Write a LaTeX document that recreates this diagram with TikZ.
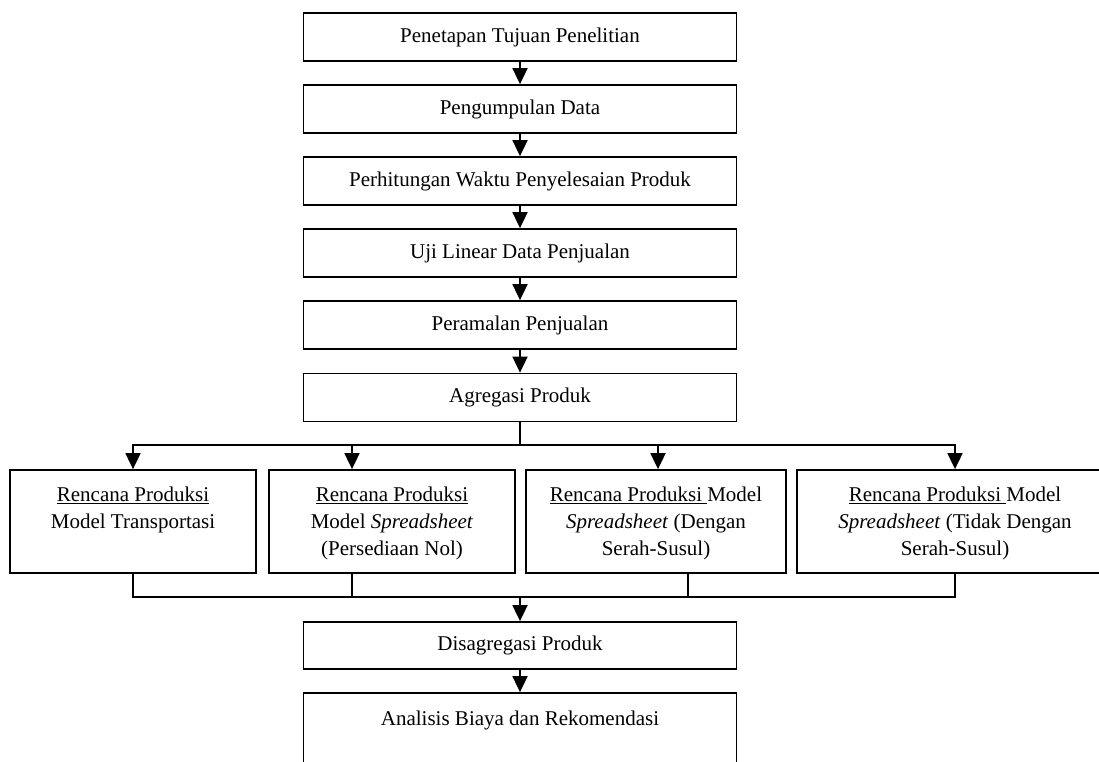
\documentclass[tikz,border=0pt]{standalone}
\usepackage{fontspec}
\setmainfont{Liberation Serif}
\usetikzlibrary{arrows.meta}
\begin{document}
\begin{tikzpicture}[x=1pt,y=-1pt,
  txt/.style={font=\fontsize{21}{27}\selectfont},
  mainbox/.style={draw, line width=1.8pt, minimum width=433pt, minimum height=48pt, inner sep=0pt, txt},
  lowbox/.style={draw, line width=1.8pt, minimum height=103pt, inner sep=0pt},
  boxtext/.style={align=center, inner sep=0pt, anchor=north, txt},
  arr/.style={-{Triangle[width=15pt,length=16pt]}, line width=1.8pt},
  conn/.style={line width=1.8pt, line cap=rect}]
\clip (0,0) rectangle (1099,761);
% main column
\node[mainbox] (n1) at (520,37)  {Penetapan Tujuan Penelitian};
\node[mainbox] (n2) at (520,109) {Pengumpulan Data};
\node[mainbox] (n3) at (520,181) {Perhitungan Waktu Penyelesaian Produk};
\node[mainbox] (n4) at (520,253) {Uji Linear Data Penjualan};
\node[mainbox] (n5) at (520,325) {Peramalan Penjualan};
\node[mainbox] (n6) at (520,397.5) {Agregasi Produk};
% branch boxes
\node[lowbox, minimum width=246pt] (A) at (133,521.5) {};
\node[lowbox, minimum width=246pt] (B) at (392,521.5) {};
\node[lowbox, minimum width=260pt] (C) at (656,521.5) {};
\node[lowbox, minimum width=316pt] (D) at (955,521.5) {};
\node[boxtext] (tA) at (133,486.4) {\underline{Rencana Produksi}\\Model Transportasi};
\node[boxtext] (tB) at (392,486.4) {\underline{Rencana Produksi}\\Model \textit{Spreadsheet}\\(Persediaan Nol)};
\node[boxtext] (tC) at (656,486.4) {\underline{Rencana Produksi\ }Model\\\textit{Spreadsheet} (Dengan\\Serah-Susul)};
\node[boxtext] (tD) at (955,486.4) {\underline{Rencana Produksi\ }Model\\\textit{Spreadsheet} (Tidak Dengan\\Serah-Susul)};
% lower column
\node[mainbox, minimum height=47pt] (n7) at (520,645.5) {Disagregasi Produk};
\node[mainbox, minimum height=110pt] (n8) at (520,748) {};
\node[boxtext] (t8) at (520,711) {Analisis Biaya dan Rekomendasi};
% connectors
\draw[arr] (n1.south) -- (n2.north);
\draw[arr] (n2.south) -- (n3.north);
\draw[arr] (n3.south) -- (n4.north);
\draw[arr] (n4.south) -- (n5.north);
\draw[arr] (n5.south) -- (n6.north);
\coordinate (split) at (520,445);
\coordinate (join) at (520,597);
\coordinate (bN) at ([xshift=-40pt]B.north);
\coordinate (cN) at ([xshift=2pt]C.north);
\coordinate (bS) at ([xshift=-40pt]B.south);
\coordinate (cS) at ([xshift=32pt]C.south);
\draw[conn] (n6.south) -- (split);
\draw[conn] (A.north |- split) -- (D.north |- split);
\draw[arr] (A.north |- split) -- (A.north);
\draw[arr] (bN |- split) -- (bN);
\draw[arr] (cN |- split) -- (cN);
\draw[arr] (D.north |- split) -- (D.north);
\draw[conn] (A.south) -- (A.south |- join) -- (D.south |- join) -- (D.south);
\draw[conn] (bS) -- (bS |- join);
\draw[conn] (cS) -- (cS |- join);
\draw[arr] (join) -- (n7.north);
\draw[arr] (n7.south) -- (n8.north);
\end{tikzpicture}
\end{document}
